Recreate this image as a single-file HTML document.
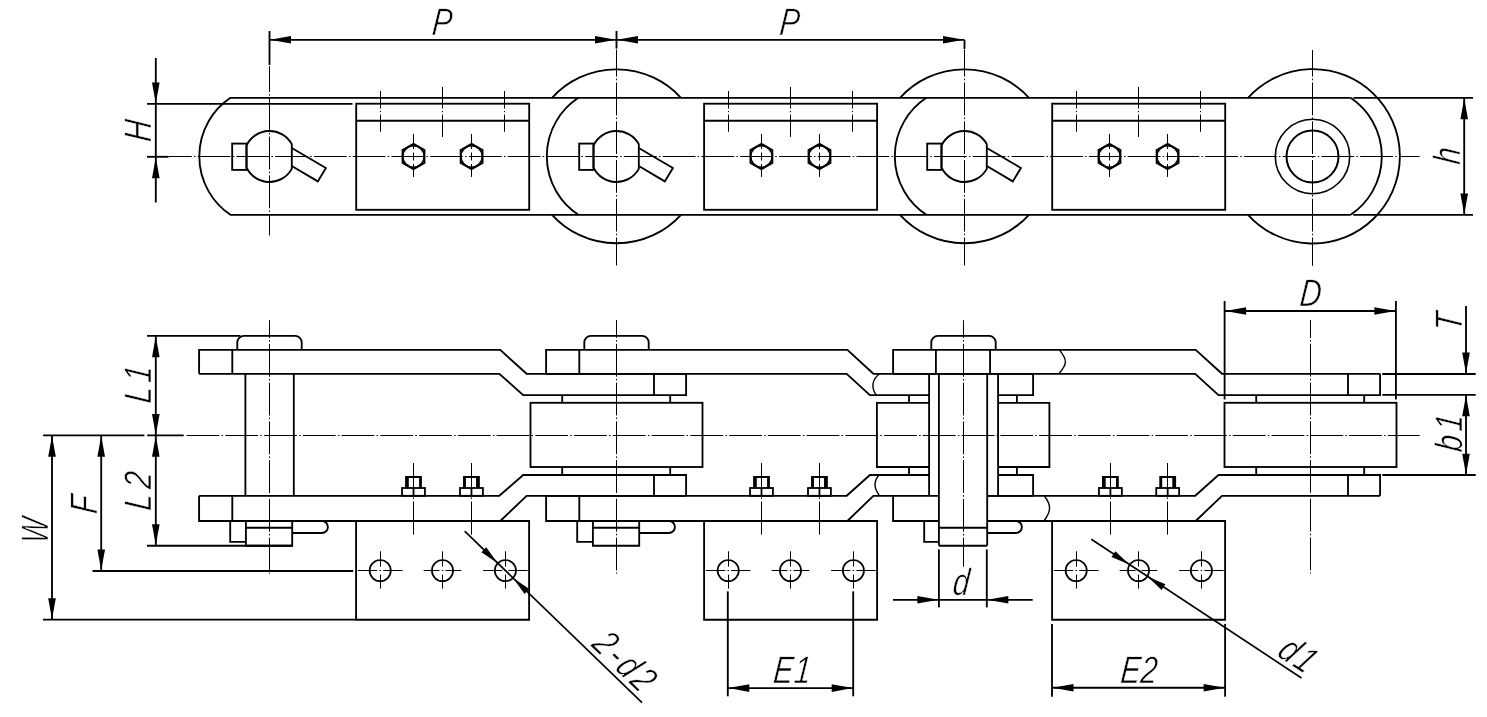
<!DOCTYPE html>
<html><head><meta charset="utf-8"><title>Chain drawing</title>
<style>
html,body{margin:0;padding:0;background:#fff;}
svg{display:block;will-change:transform;}
svg *{vector-effect:none;}
.g line,.g path,.g rect,.g circle,.g polygon{fill:none;stroke:#000;stroke-linecap:butt;stroke-linejoin:miter;}
.g polygon.a,.g path.a{fill:#000;stroke:none;}
.t{font-family:"Liberation Sans","DejaVu Sans",sans-serif;font-style:italic;fill:#000;stroke:#fff;paint-order:fill stroke;}
</style></head><body>
<svg width="1487" height="717" viewBox="0 0 1487 717">
<rect width="1487" height="717" fill="#fff"/>
<g class="g">
<path d="M1350.65,97.8 L230.45,97.8 A70.5,70.5 0 0 0 230.45,214.8 L1350.65,214.8" stroke-width="1.85" />
<path d="M1350.65,97.8 A70.5,70.5 0 0 1 1350.65,214.8" stroke-width="1.85" />
<path d="M578.36,97.8 A70.0,70.0 0 0 0 578.36,214.8" stroke-width="1.85" />
<path d="M926.36,97.8 A70.0,70.0 0 0 0 926.36,214.8" stroke-width="1.85" />
<path d="M552.02,97.8 A87.2,87.2 0 0 1 680.98,97.8" stroke-width="1.85" />
<path d="M552.02,214.8 A87.2,87.2 0 0 0 680.98,214.8" stroke-width="1.85" />
<path d="M900.02,97.8 A87.2,87.2 0 0 1 1028.98,97.8" stroke-width="1.85" />
<path d="M900.02,214.8 A87.2,87.2 0 0 0 1028.98,214.8" stroke-width="1.85" />
<path d="M1248.02,97.8 A87.2,87.2 0 1 1 1248.02,214.8" stroke-width="1.85" />
<circle cx="1312.50" cy="156.50" r="37.20" stroke-width="1.6" />
<circle cx="1312.50" cy="156.50" r="26.00" stroke-width="2.0" />
<path d="M246.50,145.49 A25.5,25.5 0 0 1 291.80,144.13 L291.80,168.87 A25.5,25.5 0 0 1 246.50,167.51 Z" stroke-width="1.85" />
<rect x="232.20" y="143.60" width="14.30" height="26.30" stroke-width="1.85" />
<path d="M291.80,148.00 L325.90,168.00 L317.80,181.40 L291.80,166.00" stroke-width="1.85" />
<path d="M593.50,145.49 A25.5,25.5 0 0 1 638.80,144.13 L638.80,168.87 A25.5,25.5 0 0 1 593.50,167.51 Z" stroke-width="1.85" />
<rect x="579.20" y="143.60" width="14.30" height="26.30" stroke-width="1.85" />
<path d="M638.80,148.00 L672.90,168.00 L664.80,181.40 L638.80,166.00" stroke-width="1.85" />
<path d="M941.50,145.49 A25.5,25.5 0 0 1 986.80,144.13 L986.80,168.87 A25.5,25.5 0 0 1 941.50,167.51 Z" stroke-width="1.85" />
<rect x="927.20" y="143.60" width="14.30" height="26.30" stroke-width="1.85" />
<path d="M986.80,148.00 L1020.90,168.00 L1012.80,181.40 L986.80,166.00" stroke-width="1.85" />
<rect x="356.20" y="103.70" width="173.00" height="106.10" stroke-width="1.85" />
<line x1="356.20" y1="120.70" x2="529.20" y2="120.70" stroke-width="1.85" />
<line x1="380.50" y1="91.00" x2="380.50" y2="108.60" stroke-width="1.0" />
<line x1="380.50" y1="114.60" x2="380.50" y2="131.80" stroke-width="1.0" />
<line x1="380.50" y1="111.00" x2="380.50" y2="112.20" stroke-width="1.0" />
<line x1="442.50" y1="86.90" x2="442.50" y2="108.60" stroke-width="1.0" />
<line x1="442.50" y1="114.60" x2="442.50" y2="136.90" stroke-width="1.0" />
<line x1="442.50" y1="111.00" x2="442.50" y2="112.20" stroke-width="1.0" />
<line x1="504.50" y1="91.00" x2="504.50" y2="108.60" stroke-width="1.0" />
<line x1="504.50" y1="114.60" x2="504.50" y2="131.80" stroke-width="1.0" />
<line x1="504.50" y1="111.00" x2="504.50" y2="112.20" stroke-width="1.0" />
<polygon points="413.50,143.90 424.41,150.20 424.41,162.80 413.50,169.10 402.59,162.80 402.59,150.20" stroke-width="2.0"/>
<circle cx="413.50" cy="156.50" r="10.70" stroke-width="1.5" />
<line x1="413.50" y1="134.00" x2="413.50" y2="149.00" stroke-width="1.0" />
<line x1="413.50" y1="164.00" x2="413.50" y2="176.90" stroke-width="1.0" />
<line x1="413.50" y1="152.50" x2="413.50" y2="160.50" stroke-width="1.0" />
<polygon points="471.60,143.90 482.51,150.20 482.51,162.80 471.60,169.10 460.69,162.80 460.69,150.20" stroke-width="2.0"/>
<circle cx="471.60" cy="156.50" r="10.70" stroke-width="1.5" />
<line x1="471.50" y1="134.00" x2="471.50" y2="149.00" stroke-width="1.0" />
<line x1="471.50" y1="164.00" x2="471.50" y2="176.90" stroke-width="1.0" />
<line x1="471.50" y1="152.50" x2="471.50" y2="160.50" stroke-width="1.0" />
<rect x="704.10" y="103.70" width="173.00" height="106.10" stroke-width="1.85" />
<line x1="704.10" y1="120.70" x2="877.10" y2="120.70" stroke-width="1.85" />
<line x1="728.50" y1="91.00" x2="728.50" y2="108.60" stroke-width="1.0" />
<line x1="728.50" y1="114.60" x2="728.50" y2="131.80" stroke-width="1.0" />
<line x1="728.50" y1="111.00" x2="728.50" y2="112.20" stroke-width="1.0" />
<line x1="790.50" y1="86.90" x2="790.50" y2="108.60" stroke-width="1.0" />
<line x1="790.50" y1="114.60" x2="790.50" y2="136.90" stroke-width="1.0" />
<line x1="790.50" y1="111.00" x2="790.50" y2="112.20" stroke-width="1.0" />
<line x1="852.50" y1="91.00" x2="852.50" y2="108.60" stroke-width="1.0" />
<line x1="852.50" y1="114.60" x2="852.50" y2="131.80" stroke-width="1.0" />
<line x1="852.50" y1="111.00" x2="852.50" y2="112.20" stroke-width="1.0" />
<polygon points="761.40,143.90 772.31,150.20 772.31,162.80 761.40,169.10 750.49,162.80 750.49,150.20" stroke-width="2.0"/>
<circle cx="761.40" cy="156.50" r="10.70" stroke-width="1.5" />
<line x1="761.50" y1="134.00" x2="761.50" y2="149.00" stroke-width="1.0" />
<line x1="761.50" y1="164.00" x2="761.50" y2="176.90" stroke-width="1.0" />
<line x1="761.50" y1="152.50" x2="761.50" y2="160.50" stroke-width="1.0" />
<polygon points="819.50,143.90 830.41,150.20 830.41,162.80 819.50,169.10 808.59,162.80 808.59,150.20" stroke-width="2.0"/>
<circle cx="819.50" cy="156.50" r="10.70" stroke-width="1.5" />
<line x1="819.50" y1="134.00" x2="819.50" y2="149.00" stroke-width="1.0" />
<line x1="819.50" y1="164.00" x2="819.50" y2="176.90" stroke-width="1.0" />
<line x1="819.50" y1="152.50" x2="819.50" y2="160.50" stroke-width="1.0" />
<rect x="1052.20" y="103.70" width="173.00" height="106.10" stroke-width="1.85" />
<line x1="1052.20" y1="120.70" x2="1225.20" y2="120.70" stroke-width="1.85" />
<line x1="1076.50" y1="91.00" x2="1076.50" y2="108.60" stroke-width="1.0" />
<line x1="1076.50" y1="114.60" x2="1076.50" y2="131.80" stroke-width="1.0" />
<line x1="1076.50" y1="111.00" x2="1076.50" y2="112.20" stroke-width="1.0" />
<line x1="1138.50" y1="86.90" x2="1138.50" y2="108.60" stroke-width="1.0" />
<line x1="1138.50" y1="114.60" x2="1138.50" y2="136.90" stroke-width="1.0" />
<line x1="1138.50" y1="111.00" x2="1138.50" y2="112.20" stroke-width="1.0" />
<line x1="1200.50" y1="91.00" x2="1200.50" y2="108.60" stroke-width="1.0" />
<line x1="1200.50" y1="114.60" x2="1200.50" y2="131.80" stroke-width="1.0" />
<line x1="1200.50" y1="111.00" x2="1200.50" y2="112.20" stroke-width="1.0" />
<polygon points="1109.50,143.90 1120.41,150.20 1120.41,162.80 1109.50,169.10 1098.59,162.80 1098.59,150.20" stroke-width="2.0"/>
<circle cx="1109.50" cy="156.50" r="10.70" stroke-width="1.5" />
<line x1="1109.50" y1="134.00" x2="1109.50" y2="149.00" stroke-width="1.0" />
<line x1="1109.50" y1="164.00" x2="1109.50" y2="176.90" stroke-width="1.0" />
<line x1="1109.50" y1="152.50" x2="1109.50" y2="160.50" stroke-width="1.0" />
<polygon points="1167.60,143.90 1178.51,150.20 1178.51,162.80 1167.60,169.10 1156.69,162.80 1156.69,150.20" stroke-width="2.0"/>
<circle cx="1167.60" cy="156.50" r="10.70" stroke-width="1.5" />
<line x1="1167.50" y1="134.00" x2="1167.50" y2="149.00" stroke-width="1.0" />
<line x1="1167.50" y1="164.00" x2="1167.50" y2="176.90" stroke-width="1.0" />
<line x1="1167.50" y1="152.50" x2="1167.50" y2="160.50" stroke-width="1.0" />
<line x1="168.50" y1="156.50" x2="1419.60" y2="156.50" stroke-width="1.0" stroke-dasharray="32.8 2.2 1.5 2.25" stroke-dashoffset="9.55"/>
<line x1="269.50" y1="66.00" x2="269.50" y2="235.50" stroke-width="1.0" stroke-dasharray="32.8 2.2 1.5 2.25" stroke-dashoffset="6.85"/>
<line x1="616.50" y1="49.50" x2="616.50" y2="265.50" stroke-width="1.0" stroke-dasharray="32.8 2.2 1.5 2.25" stroke-dashoffset="5.75"/>
<line x1="964.50" y1="49.50" x2="964.50" y2="265.50" stroke-width="1.0" stroke-dasharray="32.8 2.2 1.5 2.25" stroke-dashoffset="5.75"/>
<line x1="1312.50" y1="50.00" x2="1312.50" y2="265.80" stroke-width="1.0" stroke-dasharray="32.8 2.2 1.5 2.25" stroke-dashoffset="6.25"/>
<line x1="269.50" y1="39.80" x2="964.50" y2="39.80" stroke-width="1.85" />
<line x1="269.50" y1="31.00" x2="269.50" y2="64.90" stroke-width="1.85" />
<line x1="616.50" y1="31.00" x2="616.50" y2="48.60" stroke-width="1.85" />
<line x1="964.50" y1="40.00" x2="964.50" y2="48.90" stroke-width="1.85" />
<polygon points="270.00,39.80 291.00,36.00 291.00,43.60" class="a"/>
<polygon points="616.00,39.80 595.00,43.60 595.00,36.00" class="a"/>
<polygon points="617.00,39.80 638.00,36.00 638.00,43.60" class="a"/>
<polygon points="964.00,39.80 943.00,43.60 943.00,36.00" class="a"/>
<text transform="translate(441.30,34.80) rotate(0.00) scale(0.78,1) skewX(-6.8)" font-size="38.2" text-anchor="middle" class="t" stroke-width="0.6">P</text>
<text transform="translate(788.60,34.80) rotate(0.00) scale(0.78,1) skewX(-6.8)" font-size="38.2" text-anchor="middle" class="t" stroke-width="0.6">P</text>
<line x1="155.80" y1="58.00" x2="155.80" y2="202.50" stroke-width="1.85" />
<polygon points="155.80,103.40 152.00,82.40 159.60,82.40" class="a"/>
<polygon points="155.80,157.20 159.60,178.20 152.00,178.20" class="a"/>
<line x1="147.00" y1="103.90" x2="352.50" y2="103.90" stroke-width="1.85" />
<line x1="147.00" y1="156.80" x2="168.50" y2="156.80" stroke-width="1.85" />
<text transform="translate(151.00,131.80) rotate(-90.00) scale(0.78,1) skewX(-6.8)" font-size="38.2" text-anchor="middle" class="t" stroke-width="0.6">H</text>
<line x1="1464.20" y1="97.80" x2="1464.20" y2="214.80" stroke-width="1.85" />
<polygon points="1464.20,98.20 1468.00,119.20 1460.40,119.20" class="a"/>
<polygon points="1464.20,214.40 1460.40,193.40 1468.00,193.40" class="a"/>
<line x1="1353.30" y1="97.80" x2="1473.00" y2="97.80" stroke-width="1.85" />
<line x1="1353.30" y1="214.80" x2="1473.00" y2="214.80" stroke-width="1.85" />
<text transform="translate(1459.60,156.60) rotate(-90.00) scale(0.78,1) skewX(-6.8)" font-size="38.2" text-anchor="middle" class="t" stroke-width="0.6">h</text>
<path d="M199.10,373.8 L199.10,349.9 L500.30,349.9 L526.60,373.8 L686.10,373.8" stroke-width="1.85" />
<path d="M199.10,373.8 L499.30,373.8 L523.20,395.1 L686.10,395.1 L686.10,373.8" stroke-width="1.85" />
<line x1="654.00" y1="373.80" x2="654.00" y2="395.10" stroke-width="1.85" />
<path d="M199.10,495.8 L199.10,521.0 L500.30,521.0 L526.60,495.8 L686.10,495.8" stroke-width="1.85" />
<path d="M199.10,495.8 L499.30,495.8 L523.20,475.0 L686.10,475.0 L686.10,495.8" stroke-width="1.85" />
<line x1="654.00" y1="475.00" x2="654.00" y2="495.80" stroke-width="1.85" />
<line x1="232.30" y1="349.90" x2="232.30" y2="373.80" stroke-width="1.85" />
<line x1="232.30" y1="495.80" x2="232.30" y2="521.00" stroke-width="1.85" />
<path d="M546.10,373.8 L546.10,349.9 L847.40,349.9 L873.40,373.8 L1033.10,373.8" stroke-width="1.85" />
<path d="M546.10,373.8 L846.70,373.8 L869.90,395.1 L929.10,395.1" stroke-width="1.85" />
<path d="M998.10,395.1 L1033.10,395.1 L1033.10,373.8" stroke-width="1.85" />
<path d="M546.10,495.8 L546.10,521.0 L847.40,521.0 L873.40,495.8 L938.90,495.8" stroke-width="1.85" />
<path d="M987.20,495.8 L1033.10,495.8" stroke-width="1.85" />
<path d="M546.10,495.8 L846.70,495.8 L869.90,475.0 L929.10,475.0" stroke-width="1.85" />
<path d="M998.10,475.0 L1033.10,475.0 L1033.10,495.8" stroke-width="1.85" />
<line x1="579.30" y1="349.90" x2="579.30" y2="373.80" stroke-width="1.85" />
<line x1="579.30" y1="495.80" x2="579.30" y2="521.00" stroke-width="1.85" />
<path d="M893.10,373.8 L893.10,349.9 L1195.70,349.9 L1222.00,373.8 L1380.10,373.8" stroke-width="1.85" />
<path d="M893.10,373.8 L1195.20,373.8 L1218.50,395.1 L1380.10,395.1 L1380.10,373.8" stroke-width="1.85" />
<line x1="1348.00" y1="373.80" x2="1348.00" y2="395.10" stroke-width="1.85" />
<path d="M893.10,495.8 L893.10,521.0 L938.90,521.0" stroke-width="1.85" />
<path d="M987.20,521.0 L1195.70,521.0 L1222.00,495.8 L1380.10,495.8" stroke-width="1.85" />
<path d="M987.20,495.8 L1195.20,495.8 L1218.50,475.0 L1380.10,475.0 L1380.10,495.8" stroke-width="1.85" />
<line x1="1348.00" y1="475.00" x2="1348.00" y2="495.80" stroke-width="1.85" />
<path d="M237.30,349.9 L237.30,342.40 A6.5,6.5 0 0 1 243.80,335.9 L295.20,335.9 A6.5,6.5 0 0 1 301.70,342.40 L301.70,349.9" stroke-width="1.85" />
<path d="M584.30,349.9 L584.30,342.40 A6.5,6.5 0 0 1 590.80,335.9 L642.20,335.9 A6.5,6.5 0 0 1 648.70,342.40 L648.70,349.9" stroke-width="1.85" />
<path d="M931.30,349.9 L931.30,342.40 A6.5,6.5 0 0 1 937.80,335.9 L989.20,335.9 A6.5,6.5 0 0 1 995.70,342.40 L995.70,349.9" stroke-width="1.85" />
<line x1="245.40" y1="373.80" x2="245.40" y2="495.80" stroke-width="1.85" />
<line x1="293.80" y1="373.80" x2="293.80" y2="495.80" stroke-width="1.85" />
<rect x="530.50" y="402.80" width="172.00" height="64.20" stroke-width="1.85" />
<line x1="562.20" y1="395.10" x2="562.20" y2="402.80" stroke-width="1.85" />
<line x1="562.20" y1="467.00" x2="562.20" y2="475.00" stroke-width="1.85" />
<line x1="670.20" y1="395.10" x2="670.20" y2="402.80" stroke-width="1.85" />
<line x1="670.20" y1="467.00" x2="670.20" y2="475.00" stroke-width="1.85" />
<rect x="1224.50" y="402.80" width="172.00" height="64.20" stroke-width="1.85" />
<line x1="1256.20" y1="395.10" x2="1256.20" y2="402.80" stroke-width="1.85" />
<line x1="1256.20" y1="467.00" x2="1256.20" y2="475.00" stroke-width="1.85" />
<line x1="1364.20" y1="395.10" x2="1364.20" y2="402.80" stroke-width="1.85" />
<line x1="1364.20" y1="467.00" x2="1364.20" y2="475.00" stroke-width="1.85" />
<line x1="929.10" y1="373.80" x2="929.10" y2="495.80" stroke-width="1.85" />
<line x1="998.10" y1="373.80" x2="998.10" y2="495.80" stroke-width="1.85" />
<line x1="938.90" y1="373.80" x2="938.90" y2="545.60" stroke-width="1.85" />
<line x1="987.20" y1="373.80" x2="987.20" y2="545.60" stroke-width="1.85" />
<line x1="935.90" y1="349.90" x2="935.90" y2="373.80" stroke-width="1.85" />
<line x1="990.10" y1="349.90" x2="990.10" y2="373.80" stroke-width="1.85" />
<path d="M929.10,402.8 L876.90,402.8 L876.90,467.0 L929.10,467.0" stroke-width="1.85" />
<path d="M998.10,402.8 L1049.40,402.8 L1049.40,467.0 L998.10,467.0" stroke-width="1.85" />
<line x1="909.00" y1="395.10" x2="909.00" y2="402.80" stroke-width="1.85" />
<line x1="909.00" y1="467.00" x2="909.00" y2="475.00" stroke-width="1.85" />
<line x1="1016.90" y1="395.10" x2="1016.90" y2="402.80" stroke-width="1.85" />
<line x1="1016.90" y1="467.00" x2="1016.90" y2="475.00" stroke-width="1.85" />
<path d="M230.20,521.0 L230.20,541.8 L245.90,541.8" stroke-width="1.85" />
<path d="M245.90,521.0 L245.90,545.7 L292.20,545.7 L292.20,521.0" stroke-width="1.85" />
<line x1="245.90" y1="527.80" x2="292.20" y2="527.80" stroke-width="1.9" />
<path d="M321.90,521.0 A6,6 0 0 1 321.90,533 L292.20,533" stroke-width="1.85" />
<path d="M577.20,521.0 L577.20,541.8 L592.90,541.8" stroke-width="1.85" />
<path d="M592.90,521.0 L592.90,545.7 L639.20,545.7 L639.20,521.0" stroke-width="1.85" />
<line x1="592.90" y1="527.80" x2="639.20" y2="527.80" stroke-width="1.9" />
<path d="M668.90,521.0 A6,6 0 0 1 668.90,533 L639.20,533" stroke-width="1.85" />
<path d="M924.20,521.0 L924.20,541.8 L938.90,541.8" stroke-width="1.85" />
<path d="M938.90,545.7 L987.20,545.7" stroke-width="1.85" />
<line x1="938.90" y1="527.80" x2="987.20" y2="527.80" stroke-width="1.9" />
<path d="M1015.90,521.0 A6,6 0 0 1 1015.90,533 L987.20,533" stroke-width="1.85" />
<path d="M356.10,521.0 L356.10,619.7 L529.10,619.7 L529.10,521.0 Z" stroke-width="1.85" />
<circle cx="380.20" cy="570.60" r="10.60" stroke-width="1.7" />
<line x1="357.90" y1="570.50" x2="377.20" y2="570.50" stroke-width="1.0" />
<line x1="383.20" y1="570.50" x2="402.50" y2="570.50" stroke-width="1.0" />
<line x1="379.50" y1="570.50" x2="380.90" y2="570.50" stroke-width="1.0" />
<line x1="380.50" y1="551.30" x2="380.50" y2="566.60" stroke-width="1.0" />
<line x1="380.50" y1="574.60" x2="380.50" y2="588.60" stroke-width="1.0" />
<circle cx="442.50" cy="570.60" r="10.60" stroke-width="1.7" />
<line x1="423.70" y1="570.50" x2="439.50" y2="570.50" stroke-width="1.0" />
<line x1="445.50" y1="570.50" x2="461.30" y2="570.50" stroke-width="1.0" />
<line x1="441.80" y1="570.50" x2="443.20" y2="570.50" stroke-width="1.0" />
<line x1="442.50" y1="551.30" x2="442.50" y2="566.60" stroke-width="1.0" />
<line x1="442.50" y1="574.60" x2="442.50" y2="588.60" stroke-width="1.0" />
<circle cx="505.40" cy="570.60" r="10.60" stroke-width="1.7" />
<line x1="483.10" y1="570.50" x2="502.40" y2="570.50" stroke-width="1.0" />
<line x1="508.40" y1="570.50" x2="527.70" y2="570.50" stroke-width="1.0" />
<line x1="504.70" y1="570.50" x2="506.10" y2="570.50" stroke-width="1.0" />
<line x1="505.50" y1="551.30" x2="505.50" y2="566.60" stroke-width="1.0" />
<line x1="505.50" y1="574.60" x2="505.50" y2="588.60" stroke-width="1.0" />
<rect x="402.05" y="488.00" width="22.90" height="7.80" stroke-width="1.8" />
<line x1="413.50" y1="488.00" x2="413.50" y2="495.80" stroke-width="1.8" />
<path class="a" d="M405.10,488 V475.9 H421.90 V488 H419.10 V477.9 H408.80 V488 Z"/>
<line x1="413.50" y1="463.00" x2="413.50" y2="495.00" stroke-width="1.0" />
<line x1="413.50" y1="497.50" x2="413.50" y2="499.00" stroke-width="1.0" />
<line x1="413.50" y1="501.50" x2="413.50" y2="534.60" stroke-width="1.0" />
<rect x="460.00" y="488.00" width="22.90" height="7.80" stroke-width="1.8" />
<line x1="471.45" y1="488.00" x2="471.45" y2="495.80" stroke-width="1.8" />
<path class="a" d="M463.05,488 V475.9 H479.85 V488 H476.05 V477.9 H465.95 V488 Z"/>
<line x1="471.50" y1="463.00" x2="471.50" y2="495.00" stroke-width="1.0" />
<line x1="471.50" y1="497.50" x2="471.50" y2="499.00" stroke-width="1.0" />
<line x1="471.50" y1="501.50" x2="471.50" y2="534.60" stroke-width="1.0" />
<path d="M704.10,521.0 L704.10,619.7 L877.10,619.7 L877.10,521.0 Z" stroke-width="1.85" />
<circle cx="728.20" cy="570.60" r="10.60" stroke-width="1.7" />
<line x1="705.90" y1="570.50" x2="725.20" y2="570.50" stroke-width="1.0" />
<line x1="731.20" y1="570.50" x2="750.50" y2="570.50" stroke-width="1.0" />
<line x1="727.50" y1="570.50" x2="728.90" y2="570.50" stroke-width="1.0" />
<line x1="728.50" y1="551.30" x2="728.50" y2="566.60" stroke-width="1.0" />
<line x1="728.50" y1="574.60" x2="728.50" y2="588.60" stroke-width="1.0" />
<circle cx="790.50" cy="570.60" r="10.60" stroke-width="1.7" />
<line x1="771.70" y1="570.50" x2="787.50" y2="570.50" stroke-width="1.0" />
<line x1="793.50" y1="570.50" x2="809.30" y2="570.50" stroke-width="1.0" />
<line x1="789.80" y1="570.50" x2="791.20" y2="570.50" stroke-width="1.0" />
<line x1="790.50" y1="551.30" x2="790.50" y2="566.60" stroke-width="1.0" />
<line x1="790.50" y1="574.60" x2="790.50" y2="588.60" stroke-width="1.0" />
<circle cx="853.40" cy="570.60" r="10.60" stroke-width="1.7" />
<line x1="831.10" y1="570.50" x2="850.40" y2="570.50" stroke-width="1.0" />
<line x1="856.40" y1="570.50" x2="875.70" y2="570.50" stroke-width="1.0" />
<line x1="852.70" y1="570.50" x2="854.10" y2="570.50" stroke-width="1.0" />
<line x1="853.50" y1="551.30" x2="853.50" y2="566.60" stroke-width="1.0" />
<line x1="853.50" y1="574.60" x2="853.50" y2="588.60" stroke-width="1.0" />
<rect x="750.05" y="488.00" width="22.90" height="7.80" stroke-width="1.8" />
<line x1="761.50" y1="488.00" x2="761.50" y2="495.80" stroke-width="1.8" />
<path class="a" d="M753.10,488 V475.9 H769.90 V488 H767.10 V477.9 H756.80 V488 Z"/>
<line x1="761.50" y1="463.00" x2="761.50" y2="495.00" stroke-width="1.0" />
<line x1="761.50" y1="497.50" x2="761.50" y2="499.00" stroke-width="1.0" />
<line x1="761.50" y1="501.50" x2="761.50" y2="534.60" stroke-width="1.0" />
<rect x="808.00" y="488.00" width="22.90" height="7.80" stroke-width="1.8" />
<line x1="819.45" y1="488.00" x2="819.45" y2="495.80" stroke-width="1.8" />
<path class="a" d="M811.05,488 V475.9 H827.85 V488 H824.05 V477.9 H813.95 V488 Z"/>
<line x1="819.50" y1="463.00" x2="819.50" y2="495.00" stroke-width="1.0" />
<line x1="819.50" y1="497.50" x2="819.50" y2="499.00" stroke-width="1.0" />
<line x1="819.50" y1="501.50" x2="819.50" y2="534.60" stroke-width="1.0" />
<path d="M1052.10,521.0 L1052.10,619.7 L1225.10,619.7 L1225.10,521.0 Z" stroke-width="1.85" />
<circle cx="1076.20" cy="570.60" r="10.60" stroke-width="1.7" />
<line x1="1053.90" y1="570.50" x2="1073.20" y2="570.50" stroke-width="1.0" />
<line x1="1079.20" y1="570.50" x2="1098.50" y2="570.50" stroke-width="1.0" />
<line x1="1075.50" y1="570.50" x2="1076.90" y2="570.50" stroke-width="1.0" />
<line x1="1076.50" y1="551.30" x2="1076.50" y2="566.60" stroke-width="1.0" />
<line x1="1076.50" y1="574.60" x2="1076.50" y2="588.60" stroke-width="1.0" />
<circle cx="1138.50" cy="570.60" r="10.60" stroke-width="1.7" />
<line x1="1119.70" y1="570.50" x2="1135.50" y2="570.50" stroke-width="1.0" />
<line x1="1141.50" y1="570.50" x2="1157.30" y2="570.50" stroke-width="1.0" />
<line x1="1137.80" y1="570.50" x2="1139.20" y2="570.50" stroke-width="1.0" />
<line x1="1138.50" y1="551.30" x2="1138.50" y2="566.60" stroke-width="1.0" />
<line x1="1138.50" y1="574.60" x2="1138.50" y2="588.60" stroke-width="1.0" />
<circle cx="1201.40" cy="570.60" r="10.60" stroke-width="1.7" />
<line x1="1179.10" y1="570.50" x2="1198.40" y2="570.50" stroke-width="1.0" />
<line x1="1204.40" y1="570.50" x2="1223.70" y2="570.50" stroke-width="1.0" />
<line x1="1200.70" y1="570.50" x2="1202.10" y2="570.50" stroke-width="1.0" />
<line x1="1201.50" y1="551.30" x2="1201.50" y2="566.60" stroke-width="1.0" />
<line x1="1201.50" y1="574.60" x2="1201.50" y2="588.60" stroke-width="1.0" />
<rect x="1098.95" y="488.00" width="22.90" height="7.80" stroke-width="1.8" />
<line x1="1110.40" y1="488.00" x2="1110.40" y2="495.80" stroke-width="1.8" />
<path class="a" d="M1102.00,488 V475.9 H1118.80 V488 H1116.00 V477.9 H1105.70 V488 Z"/>
<line x1="1110.50" y1="463.00" x2="1110.50" y2="495.00" stroke-width="1.0" />
<line x1="1110.50" y1="497.50" x2="1110.50" y2="499.00" stroke-width="1.0" />
<line x1="1110.50" y1="501.50" x2="1110.50" y2="534.60" stroke-width="1.0" />
<rect x="1156.25" y="488.00" width="22.90" height="7.80" stroke-width="1.8" />
<line x1="1167.70" y1="488.00" x2="1167.70" y2="495.80" stroke-width="1.8" />
<path class="a" d="M1159.30,488 V475.9 H1176.10 V488 H1172.30 V477.9 H1162.20 V488 Z"/>
<line x1="1167.50" y1="463.00" x2="1167.50" y2="495.00" stroke-width="1.0" />
<line x1="1167.50" y1="497.50" x2="1167.50" y2="499.00" stroke-width="1.0" />
<line x1="1167.50" y1="501.50" x2="1167.50" y2="534.60" stroke-width="1.0" />
<path d="M879.6,373.8 C872.5,379 870.5,387 876.2,395.1" stroke-width="1.4" />
<path d="M879.0,475 C873.8,481 873.5,488 879.6,495.8" stroke-width="1.4" />
<path d="M1059.4,349.9 C1067.5,360 1067.5,364 1058.8,373.8" stroke-width="1.4" />
<path d="M1044.2,495.8 C1051.4,505 1051.4,511 1044.0,521" stroke-width="1.4" />
<line x1="186.60" y1="435.50" x2="1419.70" y2="435.50" stroke-width="1.0" stroke-dasharray="32.8 2.2 1.5 2.25" stroke-dashoffset="0"/>
<line x1="43.10" y1="435.30" x2="144.40" y2="435.30" stroke-width="1.85" />
<line x1="147.20" y1="435.30" x2="183.70" y2="435.30" stroke-width="1.85" />
<line x1="269.50" y1="320.20" x2="269.50" y2="573.70" stroke-width="1.0" stroke-dasharray="32.8 2.2 1.5 2.25" stroke-dashoffset="15"/>
<line x1="616.50" y1="320.10" x2="616.50" y2="573.70" stroke-width="1.0" stroke-dasharray="32.8 2.2 1.5 2.25" stroke-dashoffset="15"/>
<line x1="963.50" y1="320.20" x2="963.50" y2="566.70" stroke-width="1.0" stroke-dasharray="32.8 2.2 1.5 2.25" stroke-dashoffset="15"/>
<line x1="1310.50" y1="320.00" x2="1310.50" y2="573.60" stroke-width="1.0" stroke-dasharray="32.8 2.2 1.5 2.25" stroke-dashoffset="15"/>
<line x1="147.00" y1="335.90" x2="240.30" y2="335.90" stroke-width="1.85" />
<line x1="155.80" y1="335.90" x2="155.80" y2="545.70" stroke-width="1.85" />
<polygon points="155.80,336.30 159.60,357.30 152.00,357.30" class="a"/>
<polygon points="155.80,434.90 152.00,413.90 159.60,413.90" class="a"/>
<polygon points="155.80,435.80 159.60,456.80 152.00,456.80" class="a"/>
<polygon points="155.80,545.30 152.00,524.30 159.60,524.30" class="a"/>
<text transform="translate(151.00,383.20) rotate(-90.00) scale(0.78,1) skewX(-6.8)" font-size="38.2" text-anchor="middle" class="t" stroke-width="0.6" letter-spacing="5.5">L1</text>
<text transform="translate(151.00,489.30) rotate(-90.00) scale(0.78,1) skewX(-6.8)" font-size="38.2" text-anchor="middle" class="t" stroke-width="0.6" letter-spacing="6.9">L2</text>
<line x1="147.00" y1="545.70" x2="292.40" y2="545.70" stroke-width="1.85" />
<line x1="101.20" y1="435.50" x2="101.20" y2="571.00" stroke-width="1.85" />
<polygon points="101.20,435.80 105.00,456.80 97.40,456.80" class="a"/>
<polygon points="101.20,570.60 97.40,549.60 105.00,549.60" class="a"/>
<line x1="92.50" y1="571.00" x2="353.20" y2="571.00" stroke-width="1.85" />
<text transform="translate(96.50,505.40) rotate(-90.00) scale(0.78,1) skewX(-6.8)" font-size="38.2" text-anchor="middle" class="t" stroke-width="0.6">F</text>
<line x1="52.00" y1="435.50" x2="52.00" y2="619.60" stroke-width="1.85" />
<polygon points="52.00,435.80 55.80,456.80 48.20,456.80" class="a"/>
<polygon points="52.00,619.20 48.20,598.20 55.80,598.20" class="a"/>
<line x1="43.00" y1="619.60" x2="356.10" y2="619.60" stroke-width="1.85" />
<text transform="translate(47.60,531.50) rotate(-90.00) scale(0.7,1) skewX(-6.8)" font-size="38.2" text-anchor="middle" class="t" stroke-width="0.6">W</text>
<line x1="1224.60" y1="301.00" x2="1224.60" y2="399.50" stroke-width="1.85" />
<line x1="1395.90" y1="301.00" x2="1395.90" y2="399.50" stroke-width="1.85" />
<line x1="1224.60" y1="311.00" x2="1395.90" y2="311.00" stroke-width="1.85" />
<polygon points="1225.10,311.00 1246.10,307.20 1246.10,314.80" class="a"/>
<polygon points="1395.40,311.00 1374.40,314.80 1374.40,307.20" class="a"/>
<text transform="translate(1309.80,305.80) rotate(0.00) scale(0.78,1) skewX(-6.8)" font-size="38.2" text-anchor="middle" class="t" stroke-width="0.6">D</text>
<line x1="1382.30" y1="374.00" x2="1475.70" y2="374.00" stroke-width="1.85" />
<line x1="1382.30" y1="394.80" x2="1475.70" y2="394.80" stroke-width="1.85" />
<line x1="1382.30" y1="475.00" x2="1475.70" y2="475.00" stroke-width="1.85" />
<line x1="1466.00" y1="305.90" x2="1466.00" y2="373.80" stroke-width="1.85" />
<polygon points="1466.00,373.60 1462.20,352.60 1469.80,352.60" class="a"/>
<line x1="1466.00" y1="395.10" x2="1466.00" y2="475.00" stroke-width="1.85" />
<polygon points="1466.00,395.20 1469.80,416.20 1462.20,416.20" class="a"/>
<polygon points="1466.00,474.70 1462.20,453.70 1469.80,453.70" class="a"/>
<text transform="translate(1461.50,323.00) rotate(-90.00) scale(0.78,1) skewX(-6.8)" font-size="38.2" text-anchor="middle" class="t" stroke-width="0.6">T</text>
<text transform="translate(1461.80,432.10) rotate(-90.00) scale(0.78,1) skewX(-6.8)" font-size="38.2" text-anchor="middle" class="t" stroke-width="0.6" letter-spacing="5">b1</text>
<line x1="938.90" y1="549.40" x2="938.90" y2="607.40" stroke-width="1.85" />
<line x1="986.80" y1="549.40" x2="986.80" y2="607.40" stroke-width="1.85" />
<line x1="893.00" y1="599.80" x2="1032.70" y2="599.80" stroke-width="1.85" />
<polygon points="938.40,599.80 917.40,603.60 917.40,596.00" class="a"/>
<polygon points="987.30,599.80 1008.30,596.00 1008.30,603.60" class="a"/>
<text transform="translate(960.40,594.60) rotate(0.00) scale(0.78,1) skewX(-6.8)" font-size="38.2" text-anchor="middle" class="t" stroke-width="0.6">d</text>
<line x1="727.80" y1="591.40" x2="727.80" y2="696.30" stroke-width="1.85" />
<line x1="853.20" y1="591.40" x2="853.20" y2="696.30" stroke-width="1.85" />
<line x1="727.80" y1="688.10" x2="853.20" y2="688.10" stroke-width="1.85" />
<polygon points="728.30,688.10 749.30,684.30 749.30,691.90" class="a"/>
<polygon points="852.70,688.10 831.70,691.90 831.70,684.30" class="a"/>
<text transform="translate(791.50,683.20) rotate(0.00) scale(0.78,1) skewX(-6.8)" font-size="38.2" text-anchor="middle" class="t" stroke-width="0.6" letter-spacing="1">E1</text>
<line x1="1052.00" y1="623.90" x2="1052.00" y2="696.70" stroke-width="1.85" />
<line x1="1225.10" y1="623.90" x2="1225.10" y2="696.70" stroke-width="1.85" />
<line x1="1052.00" y1="687.70" x2="1225.10" y2="687.70" stroke-width="1.85" />
<polygon points="1052.50,687.70 1073.50,683.90 1073.50,691.50" class="a"/>
<polygon points="1224.60,687.70 1203.60,691.50 1203.60,683.90" class="a"/>
<text transform="translate(1138.00,683.40) rotate(0.00) scale(0.78,1) skewX(-6.8)" font-size="38.2" text-anchor="middle" class="t" stroke-width="0.6">E2</text>
<line x1="464.70" y1="531.20" x2="642.00" y2="702.60" stroke-width="1.7" />
<polygon points="497.49,562.95 481.40,552.27 486.26,547.23" class="a"/>
<polygon points="513.31,578.25 529.40,588.93 524.54,593.97" class="a"/>
<line x1="1091.30" y1="539.20" x2="1301.50" y2="678.00" stroke-width="1.7" />
<polygon points="1129.32,564.54 1111.54,556.99 1115.39,551.15" class="a"/>
<polygon points="1147.68,576.66 1165.46,584.21 1161.61,590.05" class="a"/>
<text transform="translate(590.00,645.60) rotate(44.03) scale(0.78,1) skewX(-6.8)" font-size="38.2" text-anchor="start" class="t" stroke-width="0.6" letter-spacing="4.2">2-d2</text>
<text transform="translate(1275.38,654.91) rotate(33.44) scale(0.78,1) skewX(-6.8)" font-size="38.2" text-anchor="start" class="t" stroke-width="0.6" letter-spacing="3">d1</text>
</g>
</svg>
</body></html>
